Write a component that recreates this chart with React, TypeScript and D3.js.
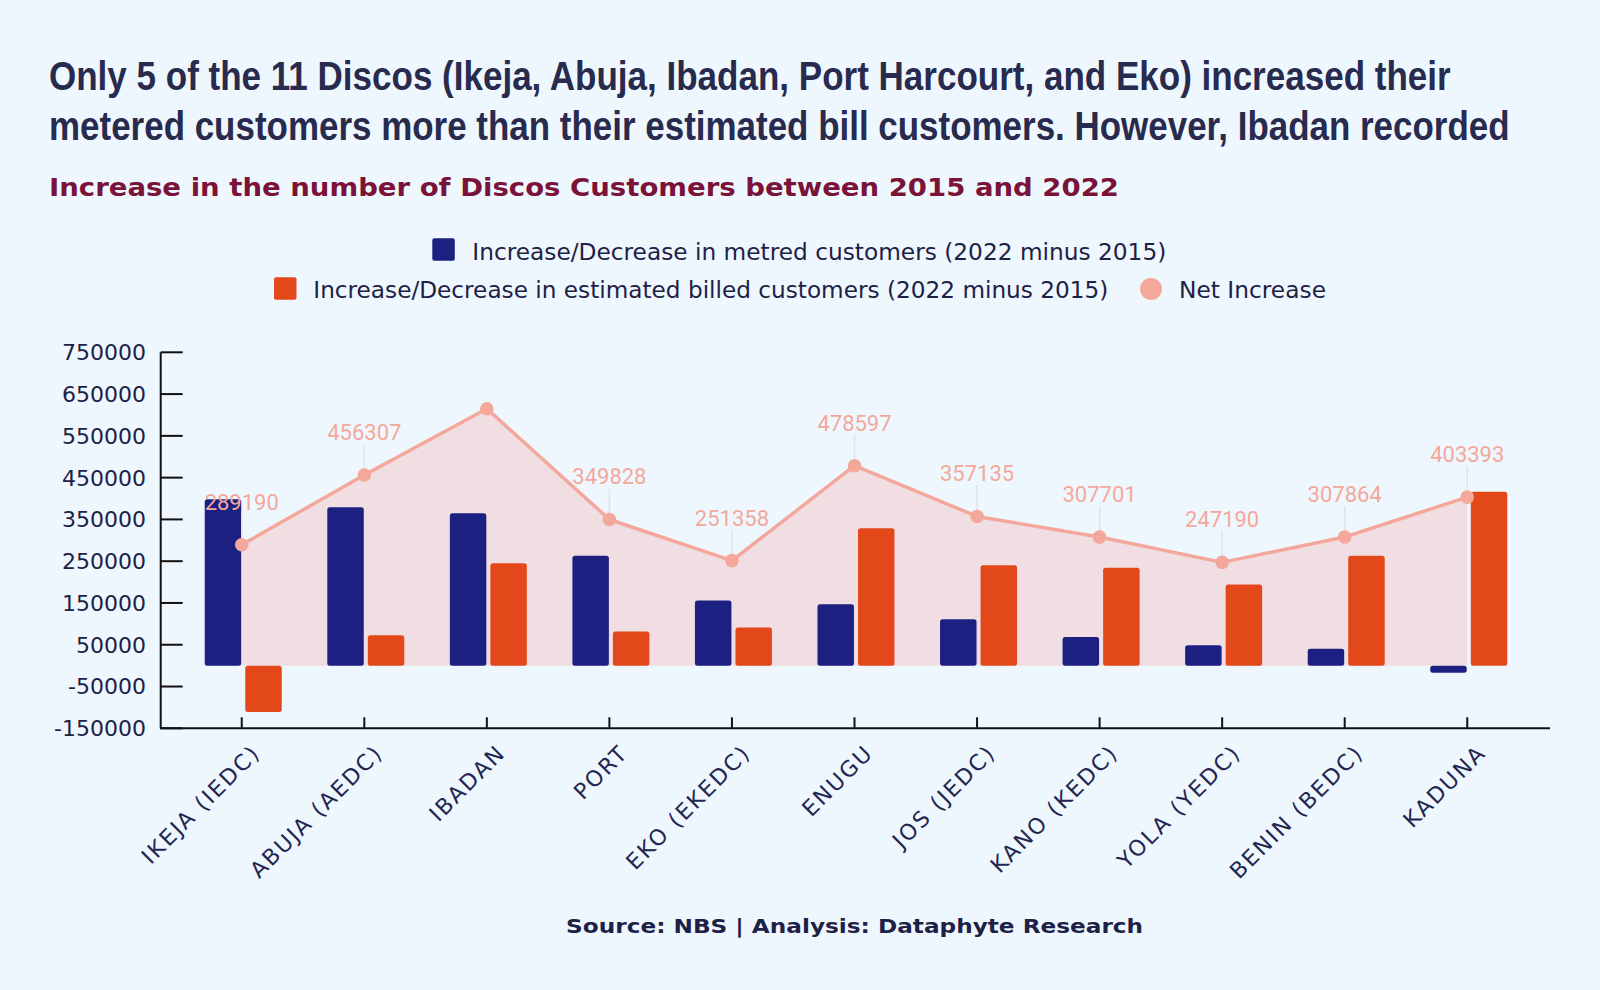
import React, { useEffect, useLayoutEffect, useRef, useState } from "react";
import * as d3 from "d3";

const categories = [
  "IKEJA (IEDC)", "ABUJA (AEDC)", "IBADAN", "PORT", "EKO (EKEDC)", "ENUGU",
  "JOS (JEDC)", "KANO (KEDC)", "YOLA (YEDC)", "BENIN (BEDC)", "KADUNA",
];
const metered = [398000, 379000, 365000, 263000, 156000, 147000, 111000, 68500, 49000, 40500, -17000];
const estimated = [-111000, 72500, 245000, 82000, 91000, 328600, 240000, 234000, 194000, 263000, 416000];
const netIncrease = [289190, 456307, 615000, 349828, 251358, 478597, 357135, 307701, 247190, 307864, 403393];
const netLabels = ["289190", "456307", "", "349828", "251358", "478597", "357135", "307701", "247190", "307864", "403393"];
const yTicks = [750000, 650000, 550000, 450000, 350000, 250000, 150000, 50000, -50000, -150000];
const yDomain = [-150000, 750000];

const titleLines = [
  "Only 5 of the 11 Discos (Ikeja, Abuja, Ibadan, Port Harcourt, and Eko) increased their",
  "metered customers more than their estimated bill customers. However, Ibadan recorded",
];
const subtitle = "Increase in the number of Discos Customers between 2015 and 2022";
const legendMetered = "Increase/Decrease in metred customers (2022 minus 2015)";
const legendEstimated = "Increase/Decrease in estimated billed customers (2022 minus 2015)";
const legendNet = "Net Increase";
const sourceText = "Source: NBS | Analysis: Dataphyte Research";

const W = 1600;
const H = 990;
const BG = "#eff7fe";
const NAVY = "#1c2081";
const ORANGE = "#e3481a";
const PINK = "#f4a89b";
const AREA = "#f1dee2";
const INK = "#1e2146";
const TITLE_WIDTHS = [1402, 1461];

export default function App() {
  const titleRefs = useRef<(SVGTextElement | null)[]>([]);
  const [titleScale, setTitleScale] = useState<number[]>([0.75, 0.75]);

  useEffect(() => {
    document.body.style.margin = "0";
    document.body.style.background = BG;
  }, []);

  useLayoutEffect(() => {
    const sc = titleRefs.current.map((el, i) => {
      if (!el) return 0.75;
      const len = el.getComputedTextLength();
      return len > 0 ? TITLE_WIDTHS[i] / len : 0.75;
    });
    setTitleScale(sc);
  }, []);

  const x = d3.scalePoint<string>().domain(categories).range([160, 1549]).padding(0.667);
  const y = d3.scaleLinear().domain(yDomain).range([728.3, 352.3]);
  const sub = d3.scaleBand<string>().domain(["m", "e"]).range([-37, 40]).paddingInner(0.1);
  const y0 = y(0);

  const pts = categories.map((c, i) => ({ c, v: netIncrease[i] }));
  const line = d3.line<{ c: string; v: number }>().x((d) => x(d.c)!).y((d) => y(d.v));
  const area = d3
    .area<{ c: string; v: number }>()
    .x((d) => x(d.c)!)
    .y0(y0)
    .y1((d) => y(d.v));

  const bar = (v: number, cx: number, key: string, fill: string) => {
    const top = y(Math.max(v, 0));
    const h = Math.abs(y(v) - y0);
    return (
      <rect key={key} x={cx + sub(key)!} y={top} width={sub.bandwidth()} height={h} rx={2.5} fill={fill} />
    );
  };

  const axisTop = y(yDomain[1]);
  const axisBottom = y(yDomain[0]);

  return (
    <div style={{ position: "absolute", left: 0, top: 0 }}>
      <svg width={W} height={H} style={{ display: "block" }}>
        <rect x={0} y={0} width={W} height={H} fill={BG} />

        {/* Title */}
        {titleLines.map((t, i) => (
          <text
            key={i}
            ref={(el) => {
              titleRefs.current[i] = el;
            }}
            x={0}
            y={0}
            transform={`translate(49,${89.5 + i * 50.5}) scale(${titleScale[i]},1)`}
            fontFamily="'Liberation Sans', Arial, sans-serif"
            fontWeight="bold"
            fontSize={40}
            fill="#282a4e"
          >
            {t}
          </text>
        ))}
        <text
          x={49}
          y={196}
          fontFamily="'DejaVu Sans', Verdana, sans-serif"
          fontWeight="bold"
          fontSize={25}
          fill="#7b1239"
          textLength={1070}
          lengthAdjust="spacingAndGlyphs"
        >
          {subtitle}
        </text>

        {/* Legend */}
        <g fontFamily="'DejaVu Sans', Verdana, sans-serif" fontSize={22.5} fill={INK}>
          <rect x={432.3} y={238.3} width={22.5} height={22.5} rx={2} fill={NAVY} />
          <text x={472.3} y={260} textLength={694} lengthAdjust="spacingAndGlyphs">
            {legendMetered}
          </text>
          <rect x={274} y={277.3} width={22.5} height={22.5} rx={2} fill={ORANGE} />
          <text x={313.3} y={298.3} textLength={795} lengthAdjust="spacingAndGlyphs">
            {legendEstimated}
          </text>
          <circle cx={1151} cy={289} r={11} fill={PINK} />
          <text x={1179} y={298.3} textLength={147} lengthAdjust="spacingAndGlyphs">
            {legendNet}
          </text>
        </g>

        {/* Net area */}
        <path d={area(pts) || ""} fill={AREA} />

        {/* Bars */}
        {categories.map((c, i) => {
          const cx = x(c)!;
          return (
            <g key={c}>
              {bar(metered[i], cx, "m", NAVY)}
              {bar(estimated[i], cx, "e", ORANGE)}
            </g>
          );
        })}

        {/* Net line */}
        <path d={line(pts) || ""} fill="none" stroke={PINK} strokeWidth={3.5} strokeLinejoin="round" />
        {pts.map((d, i) =>
          netLabels[i] ? (
            <line
              key={"ld" + i}
              x1={x(d.c)!}
              x2={x(d.c)!}
              y1={y(d.v) - 31}
              y2={y(d.v) - 6}
              stroke="#dde3ec"
              strokeWidth={1.5}
            />
          ) : null
        )}
        {pts.map((d, i) => (
          <circle key={"p" + i} cx={x(d.c)!} cy={y(d.v)} r={6.8} fill={PINK} />
        ))}
        {pts.map((d, i) =>
          netLabels[i] ? (
            <text
              key={"lt" + i}
              x={x(d.c)!}
              y={y(d.v) - 35}
              textAnchor="middle"
              fontFamily="Roboto, 'Noto Sans', sans-serif"
              fontSize={22}
              fill={PINK}
            >
              {netLabels[i]}
            </text>
          ) : null
        )}

        {/* Y axis */}
        <line x1={160.7} x2={160.7} y1={axisTop} y2={axisBottom} stroke="#111" strokeWidth={2} />
        {yTicks.map((t) => (
          <g key={t}>
            <line x1={160.7} x2={182.7} y1={y(t)} y2={y(t)} stroke="#111" strokeWidth={2} />
            <text
              x={146}
              y={y(t)}
              dy="0.36em"
              textAnchor="end"
              fontFamily="'DejaVu Sans', Verdana, sans-serif"
              fontSize={22}
              fill={INK}
            >
              {t}
            </text>
          </g>
        ))}

        {/* X axis */}
        <line x1={160} x2={1550} y1={axisBottom} y2={axisBottom} stroke="#111" strokeWidth={2} />
        {categories.map((c) => (
          <g key={"xt" + c}>
            <line x1={x(c)!} x2={x(c)!} y1={axisBottom - 11} y2={axisBottom} stroke="#111" strokeWidth={2} />
            <text
              transform={`translate(${x(c)! + 20},${axisBottom + 26}) rotate(-45)`}
              textAnchor="end"
              fontFamily="'DejaVu Sans', Verdana, sans-serif"
              fontSize={22}
              letterSpacing={2}
              fill="#232650"
            >
              {c}
            </text>
          </g>
        ))}

        {/* Source */}
        <text
          x={854.6}
          y={933}
          textAnchor="middle"
          fontFamily="'DejaVu Sans', Verdana, sans-serif"
          fontWeight="bold"
          fontSize={20}
          fill={INK}
          textLength={577}
          lengthAdjust="spacingAndGlyphs"
        >
          {sourceText}
        </text>
      </svg>
    </div>
  );
}
